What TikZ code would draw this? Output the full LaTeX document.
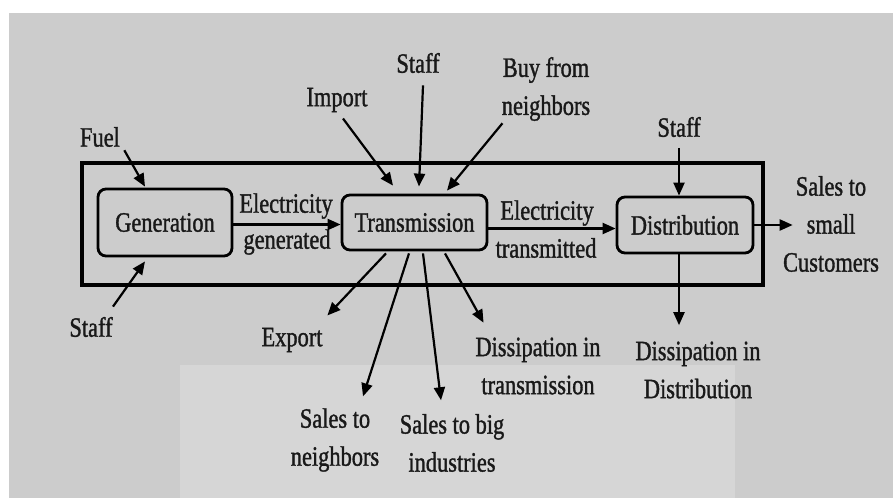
\documentclass[tikz,border=0pt]{standalone}
\usepackage{fontspec}
\setmainfont[FakeStretch=0.8,FakeBold=1.2]{Liberation Serif}
\usetikzlibrary{arrows.meta,calc}

\tikzset{
  txt/.style={inner sep=1pt, align=center, text=black!90,
    font=\fontsize{14}{19}\selectfont},
  stage/.style={txt, draw, line width=1.4pt, rounded corners=4pt},
  flow/.style={line width=1.1pt, -{Triangle[length=6.5pt,width=5.5pt]}},
}

\begin{document}
\begin{tikzpicture}[x=0.5pt,y=-0.5pt]
    \useasboundingbox[fill=white] (0,0) rectangle (893,498);
    \fill[black!20] (9,13) rectangle (893,498);
    \fill[black!16] (180,365) rectangle (735,498);
    % system boundary
    \draw[line width=2.2pt] (82,163) rectangle (763,285);

    % the three stages
    \node[stage, minimum width=67pt, minimum height=33.5pt] (gen) at (165,222.5) {Generation};
    \node[stage, minimum width=72.5pt, minimum height=27.5pt] (trans) at (414.5,222.5) {Transmission};
    \node[stage, minimum width=68pt, minimum height=28pt] (dist) at (685,225) {Distribution};

    % labels round them
    \node[txt] (fuel) at (100,137) {Fuel};
    \node[txt] (staffgen) at (91,327) {Staff};
    \node[txt] (elecgen) at (286,206) {Electricity};
    \node[txt] (generated) at (287,242) {generated};
    \node[txt] (import) at (337,100) {Import};
    \node[txt] (stafftrans) at (418,63) {Staff};
    \node[txt] (buy) at (546,89) {Buy from\\neighbors};
    \node[txt] (electrans) at (547,213) {Electricity};
    \node[txt] (transmitted) at (546,248) {transmitted};
    \node[txt] (export) at (292,340) {Export};
    \node[txt] (salesnb) at (335,440) {Sales to\\neighbors};
    \node[txt] (salesbig) at (452,443) {Sales to big\\industries};
    \node[txt] (disstrans) at (538,366) {Dissipation in\\transmission};
    \node[txt] (staffdist) at (679,127) {Staff};
    \node[txt] (dissdist) at (698,370) {Dissipation in\\Distribution};
    \node[txt] (salessmall) at (831,224) {Sales to\\small\\Customers};

    % inputs
    \draw[flow] ($(fuel.south east)+(2,1)$) -- ($(gen.north)+(-20,-1)$);
    \draw[flow] ($(staffgen.north east)+(-2,-8)$) -- ($(gen.south)+(-20,4)$);
    \draw[flow] ($(import.south)+(6,4)$) -- ($(trans.north)+(-21.5,-8)$);
    \draw[flow] ($(stafftrans.south)+(5,10)$) -- ($(trans.north)+(4.5,-7)$);
    \draw[flow] ($(buy.south west)+(3,0)$) -- ($(trans.north)+(32.5,-3)$);
    \draw[flow] ($(staffdist.south)+(0,8.5)$) -- (staffdist.south |- dist.north);

    % main chain
    \draw[flow] ($(gen.east)+(0,2)$) -- ($(trans.west)+(0,2)$);
    \draw[flow] ($(trans.east)+(0,6)$) -- ($(trans.east -| dist.west)+(0,6)$);
    \draw[flow] (dist.east) -- ($(dist.east -| salessmall.west)+(12,0)$);

    % outputs
    \draw[flow] ($(trans.south)+(-28.5,2)$) -- ($(export.north east)+(2.5,-10)$);
    \draw[flow] ($(trans.south)+(-5.5,2)$) -- ($(salesnb.north)+(28,-9.5)$);
    \draw[flow] ($(trans.south)+(8.5,2)$) -- ($(salesbig.north)+(-11,-11.5)$);
    \draw[flow] ($(trans.south)+(30.5,2)$) -- ($(disstrans.north west)+(10.5,-12.5)$);
    \draw[flow] (staffdist.south |- dist.south) -- ($(staffdist.south |- dissdist.north)+(0,-14)$);
\end{tikzpicture}
\end{document}
